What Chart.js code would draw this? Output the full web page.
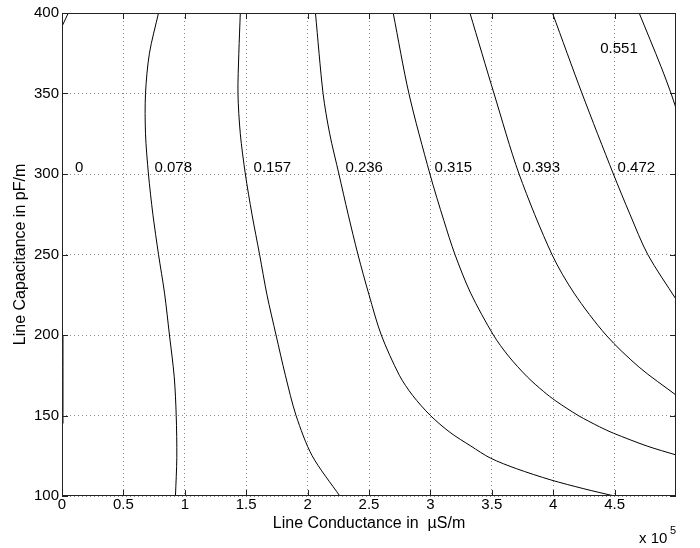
<!DOCTYPE html>
<html>
<head>
<meta charset="utf-8">
<script src="https://cdn.jsdelivr.net/npm/chart.js@4.4.1/dist/chart.umd.min.js"></script>
<style>
  body { margin: 0; background: #fff; }
  #wrap { width: 700px; height: 548px; position: relative; }
</style>
</head>
<body>
<div id="wrap"><canvas id="graph"></canvas></div>
<script>
// axis ticks (x in units of 1e5 uS/m, y in pF/m)
const xTicks = [0, 0.5, 1, 1.5, 2, 2.5, 3, 3.5, 4, 4.5];
const xTickLabels = ['0', '0.5', '1', '1.5', '2', '2.5', '3', '3.5', '4', '4.5'];
const yTicks = [100, 150, 200, 250, 300, 350, 400];
const yTickLabels = ['100', '150', '200', '250', '300', '350', '400'];

// contour lines
const c0aX = [0.051, 0.005];
const c0aY = [400, 392.5];
const c0bX = [0.008, 0.008];
const c0bY = [145, 200];
const c078X = [0.786, 0.712, 0.680, 0.680, 0.704, 0.740, 0.786, 0.835, 0.875, 0.914, 0.930, 0.935, 0.924];
const c078Y = [400, 375, 350, 325, 300, 275, 250, 226, 200, 174, 150, 124, 100];
const c157X = [1.452, 1.440, 1.433, 1.452, 1.493, 1.547, 1.609, 1.669, 1.743, 1.819, 1.906, 2.037, 2.262];
const c157Y = [400, 375, 350, 325, 300, 275, 250, 225, 200, 175, 150, 125, 100];
const c236X = [2.064, 2.126, 2.180, 2.255, 2.330, 2.410, 2.500, 2.600, 2.747, 2.855, 3.000, 3.160, 3.330, 3.490, 3.700, 3.980, 4.250, 4.497];
const c236Y = [400, 350, 325, 300, 275, 250, 225, 200, 175, 162.5, 150, 139.5, 131, 123.5, 117, 110, 104.5, 100];
const c315X = [2.697, 2.825, 2.996, 3.110, 3.200, 3.328, 3.513, 3.635, 3.789, 3.920, 4.022, 4.204, 4.377, 4.491, 4.765, 5.000];
const c315Y = [400, 350, 300, 271, 250, 226, 200, 187, 174, 165, 159, 150, 143, 139, 131, 125.5];
const c393X = [3.322, 3.518, 3.722, 3.990, 4.170, 4.430, 4.700, 5.000];
const c393Y = [400, 350, 300, 250, 226, 200, 180, 162.7];
const c472X = [3.994, 4.235, 4.490, 4.625, 4.770, 5.000];
const c472Y = [400, 350, 300, 275, 250, 222.2];
const c551X = [4.700, 4.878, 4.960, 5.000];
const c551Y = [400, 366.7, 350, 340.8];

// contour level labels and where they sit (data units)
const labelText = ['0', '0.078', '0.157', '0.236', '0.315', '0.393', '0.472', '0.551'];
const labelX = [0.106, 0.753, 1.560, 2.308, 3.034, 3.750, 4.524, 4.383];
const labelY = [302.5, 302.5, 302.5, 302.5, 302.5, 302.5, 302.5, 376.6];

const lines = [
  [c0aX, c0aY], [c0bX, c0bY], [c078X, c078Y], [c157X, c157Y], [c236X, c236Y],
  [c315X, c315Y], [c393X, c393Y], [c472X, c472Y], [c551X, c551Y]
];

const FONT = '"Liberation Sans", Arial, Helvetica, sans-serif';

const frame = {
  id: 'frame',
  afterDraw(chart) {
    const c = chart.ctx, a = chart.chartArea;
    const xs = chart.scales.x, ys = chart.scales.y;
    c.save();
    c.strokeStyle = '#222';
    c.lineWidth = 1;
    c.strokeRect(a.left + 0.5, a.top + 0.5, a.right - a.left - 1, a.bottom - a.top - 1);
    c.beginPath();
    xTicks.forEach(v => {
      const px = Math.round(xs.getPixelForValue(v)) + 0.5;
      c.moveTo(px, a.bottom); c.lineTo(px, a.bottom - 6);
      c.moveTo(px, a.top); c.lineTo(px, a.top + 6);
    });
    yTicks.forEach(v => {
      const py = Math.round(ys.getPixelForValue(v)) + 0.5;
      c.moveTo(a.left, py); c.lineTo(a.left + 6, py);
      c.moveTo(a.right, py); c.lineTo(a.right - 6, py);
    });
    c.stroke();

    c.fillStyle = '#000';
    c.font = '15px ' + FONT;
    c.textAlign = 'left';
    c.textBaseline = 'middle';
    labelText.forEach((t, i) => {
      c.fillText(t, xs.getPixelForValue(labelX[i]), ys.getPixelForValue(labelY[i]) - 2);
    });

    // axis titles
    c.font = '16px ' + FONT;
    c.textBaseline = 'alphabetic';
    c.textAlign = 'center';
    c.fillText('Line Conductance in  \u00B5S/m', (a.left + a.right) / 2, 528);
    c.save();
    c.translate(25, (a.top + a.bottom) / 2);
    c.rotate(-Math.PI / 2);
    c.fillText('Line Capacitance in pF/m', 0, 0);
    c.restore();

    // exponent
    c.font = '15px ' + FONT;
    c.textAlign = 'left';
    c.fillText('x 10', 639, 543);
    c.font = '11px ' + FONT;
    c.fillText('5', 670, 534);
    c.restore();
  }
};

const ctx = document.getElementById('graph');

new Chart(ctx, {
  type: 'scatter',
  data: {
    datasets: lines.map(l => ({
      data: l[0].map((x, i) => ({ x: x, y: l[1][i] })),
      showLine: true,
      borderColor: '#000',
      borderWidth: 1,
      pointRadius: 0,
      tension: 0.3
    }))
  },
  options: {
    responsive: true,
    maintainAspectRatio: false,
    animation: false,
    layout: { padding: { top: 13, right: 24, left: 0, bottom: 0 } },
    plugins: { legend: { display: false }, tooltip: { enabled: false } },
    scales: {
      x: {
        type: 'linear',
        min: 0,
        max: 5,
        afterBuildTicks: s => { s.ticks = xTicks.map(v => ({ value: v })); },
        afterFit: s => { s.height = 52; },
        ticks: {
          color: '#000',
          font: { family: FONT, size: 15 },
          padding: 0,
          maxRotation: 0,
          callback: (v, i) => xTickLabels[i]
        },
        grid: { color: '#8a8a8a', lineWidth: 1, drawTicks: false },
        border: { display: false, dash: [1, 3] }
      },
      y: {
        type: 'linear',
        min: 100,
        max: 400,
        afterBuildTicks: s => { s.ticks = yTicks.map(v => ({ value: v })); },
        afterFit: s => { s.width = 62; },
        ticks: {
          color: '#000',
          font: { family: FONT, size: 15 },
          padding: 3,
          callback: (v, i) => yTickLabels[i]
        },
        grid: { color: '#8a8a8a', lineWidth: 1, drawTicks: false },
        border: { display: false, dash: [1, 3] }
      }
    }
  },
  plugins: [frame]
});
</script>
</body>
</html>
